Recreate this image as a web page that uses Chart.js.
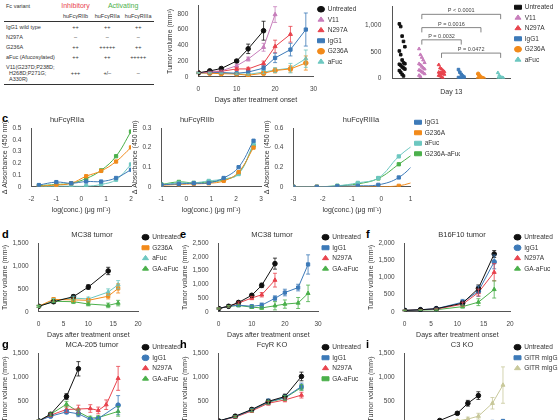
<!DOCTYPE html><html><head><meta charset="utf-8">
<script src="https://cdn.jsdelivr.net/npm/chart.js@4"></script>
<style>
body{margin:0;width:560px;height:420px;overflow:hidden;background:#fff;font-family:Arial,"Liberation Sans",sans-serif;position:relative}
.p{position:absolute}
.lab{position:absolute;font-weight:bold;font-size:11px}
table{font-size:5.5px;border-collapse:collapse;color:#333}
td{padding:2px 2px;text-align:center}
td:first-child{text-align:left}
</style></head><body>
<div class="p" style="left:4px;top:0;width:150px">
<table style="width:150px">
<tr><td>Fc variant</td><td style="color:#e8434d;font-size:7px">Inhibitory</td><td colspan="2" style="color:#4bb04b;font-size:7px">Activating</td></tr>
<tr style="border-bottom:0.6px solid #333"><td></td><td>huFcγRIIb</td><td>huFcγRIIa</td><td>huFcγRIIIa</td></tr>
<tr><td>IgG1 wild type</td><td>++</td><td>++</td><td>++</td></tr>
<tr><td>N297A</td><td>–</td><td>–</td><td>–</td></tr>
<tr><td>G236A</td><td>++</td><td>+++++</td><td>++</td></tr>
<tr><td>aFuc (Afucosylated)</td><td>++</td><td>++</td><td>+++++</td></tr>
<tr style="border-bottom:0.8px solid #333"><td>V11(G237D;P238D;<br>&nbsp;&nbsp;H268D;P271G;<br>&nbsp;&nbsp;A330R)</td><td>+++</td><td>+/–</td><td>–</td></tr>
</table></div>
<div class="p" style="left:165px;top:0;width:200px;height:105px"><canvas id="b"></canvas></div>
<div class="p" style="left:362px;top:0;width:198px;height:97px"><canvas id="v"></canvas></div>
<div class="lab" style="left:2px;top:112px">c</div>
<div class="p" style="left:0;top:113px;width:136px;height:102px"><canvas id="c1"></canvas></div>
<div class="p" style="left:130px;top:113px;width:136px;height:102px"><canvas id="c2"></canvas></div>
<div class="p" style="left:262px;top:113px;width:200px;height:102px"><canvas id="c3"></canvas></div>
<div class="lab" style="left:2px;top:228px">d</div>
<div class="lab" style="left:180px;top:228px">e</div>
<div class="lab" style="left:366px;top:228px">f</div>
<div class="p" style="left:0;top:228px;width:186px;height:112px"><canvas id="d"></canvas></div>
<div class="p" style="left:180px;top:228px;width:186px;height:112px"><canvas id="e"></canvas></div>
<div class="p" style="left:366px;top:228px;width:194px;height:112px"><canvas id="f"></canvas></div>
<div class="lab" style="left:2px;top:338px">g</div>
<div class="lab" style="left:180px;top:338px">h</div>
<div class="lab" style="left:366px;top:338px">i</div>
<div class="p" style="left:0;top:338px;width:186px;height:115px"><canvas id="g"></canvas></div>
<div class="p" style="left:180px;top:338px;width:186px;height:115px"><canvas id="h"></canvas></div>
<div class="p" style="left:366px;top:338px;width:194px;height:115px"><canvas id="i"></canvas></div>
<script>
const C={k:'#111',v11:'#c77dbb',n:'#e8434d',ig:'#3d7ab8',g:'#f28a1a',af:'#6cc7c0',ga:'#4bb04b',kh:'#c8c89a'};
// panel b
const bDays=[0,3,6,10,13,17,20,24,28];
const bUnt=[50,75,105,200,355,585];
const bV11=[50,65,75,140,225,375,790];
const bN297A=[50,60,70,100,100,170,385,540];
const bIgG1=[50,55,55,45,60,110,240,345,600];
const bG236A=[50,45,40,35,20,45,80,100,175];
const bAFuc=[50,50,45,40,30,60,85,110,230];
const bTicks=[0,200,400,600,800];
const bErr={unt:[10,10,15,20,60,120],v11:[5,5,10,20,25,50,100],n:[5,5,5,20,20,30,80,100],ig:[5,5,5,10,15,30,60,80,210],g:[5,5,5,10,10,20,30,40,90],af:[5,5,5,10,10,20,30,60,110]};
// violin day 13
const vCats=['Untreated','V11','N297A','IgG1','G236A','aFuc'];
const vUnt=[1030,980,800,700,600,520,450,350,300,280,270,250,220,200,180,150,120,80,50];
const vV11=[560,450,400,350,300,280,260,230,200,180,160,150,130,110,90,60,40];
const vN=[260,200,180,150,130,120,110,100,90,80,60,50,30,10];
const vIg=[170,120,80,50,30,20,10,5,0,0];
const vG=[90,50,20,10,0,0,0];
const vAf=[110,60,30,20,10,0,0];
const vTicks=[0,500,1000];
const vBrackets=[[1,5,1210,'P < 0.0001'],[1,4,960,'P = 0.0016'],[1,3,730,'P = 0.0032'],[2,5,480,'P = 0.0472']];
// c
const c1X=[-1.7,-1,-0.4,0.2,0.8,1.4,2];
const c1IgG1=[.015,.04,.03,.045,.045,.075,.145];
const c1G236A=[.005,.015,.03,.09,.135,.215,.335];
const c1aFuc=[0,.005,.005,.005,.02,.06,.19];
const c1GAaFuc=[.01,.02,.03,.07,.14,.26,.47];
const c2X=[-1,-0.3,0.3,0.9,1.5,2.1,2.7];
const c2IgG1=[.01,.015,.018,.02,.045,.1,.235];
const c2G236A=[.008,.012,.015,.018,.03,.075,.2];
const c2aFuc=[.01,.02,.02,.03,.04,.065,.22];
const c2GAaFuc=[.012,.025,.02,.025,.035,.07,.21];
const c3X=[-3,-2.2,-1.5,-0.8,-0.1,0.6,1.3];
const c3IgG1=[0,0,.005,.01,.02,.095,.285];
const c3G236A=[0,0,0,0,0,.01,.065];
const c3aFuc=[0,0,.01,.04,.09,.31,.47];
const c3GAaFuc=[0,0,.01,.03,.085,.23,.38];
// d
const dDays=[0,3,7,10,14,16];
const dUnt=[120,220,330,540,890];
const dG236A=[120,270,260,250,340,510];
const dAFuc=[120,250,300,280,430,590];
const dGA=[120,230,220,170,140,190];
// e
const eDays=[0,3,6,10,13,17,20,24,27];
const eUnt=[120,200,340,600,960,1750];
const eIgG1=[120,200,240,200,240,490,700,880,1720];
const eN297A=[120,200,320,500,620,1150];
const eGA=[120,200,230,170,140,220,280,320,670];
// f
const fDays=[0,3,6,11,14,17];
const fUnt=[40,60,90,250,680,1680];
const fIgG1=[40,60,90,280,600,1450];
const fN297A=[40,60,80,220,560,1150];
const fGA=[40,50,60,150,280,650];
// g
const gDays=[0,3,7,10,13,15,17,20];
const gUnt=[80,220,590,1170];
const gIgG1=[80,180,270,230,110,130,null,410];
const gN297A=[80,200,320,330,340,300,420,970];
const gGA=[80,220,430,270,140,150,null,280];
// h
const hDays=[0,5,10,15,20,25];
const hUnt=[80,180,320,490,590,1010];
const hIgG1=[80,170,310,480,570,800];
const hN297A=[80,160,290,450,520,620];
const hGA=[80,170,300,470,560,780];
// i
const iDays=[0,5,10,15,18,21,25,28];
const iUnt=[0,30,90,240,450,610];
const iGITR=[0,10,20,20,30,40,60,80];
const iN297A=[0,20,60,80,120,180,450,830];

Chart.defaults.font.family='Arial, "Liberation Sans", sans-serif';
Chart.defaults.font.size=6.5;
Chart.defaults.color='#444';
Chart.defaults.animation=false;

const errPlugin={id:'err',afterDatasetsDraw(ch){const c=ch.ctx;ch.data.datasets.forEach((ds,i)=>{if(!ds.err)return;const m=ch.getDatasetMeta(i);c.save();c.strokeStyle=ds.borderColor;c.lineWidth=0.8;m.data.forEach((p,j)=>{const e=ds.err[j];if(e==null||ds.data[j].y==null)return;const y1=ch.scales.y.getPixelForValue(ds.data[j].y+e),y2=ch.scales.y.getPixelForValue(Math.max(0,ds.data[j].y-e));c.beginPath();c.moveTo(p.x,y1);c.lineTo(p.x,y2);c.moveTo(p.x-2,y1);c.lineTo(p.x+2,y1);c.moveTo(p.x-2,y2);c.lineTo(p.x+2,y2);c.stroke();});c.restore();});}};

function pts(xs,ys){return ys.map((y,i)=>({x:xs[i],y:y}));}
function ds(label,xs,ys,col,shape,err,tension){return {label,data:pts(xs,ys),borderColor:col,backgroundColor:col,pointStyle:shape||'circle',pointRadius:2.3,borderWidth:1,tension:tension||0,spanGaps:true,err};}
const legendOpts={position:'right',align:'start',labels:{usePointStyle:true,pointStyleWidth:7,boxWidth:4,boxHeight:4,padding:4,font:{size:6.5},color:'#333'}};
function lineChart(id,o){
  new Chart(document.getElementById(id),{type:'line',data:{datasets:o.ds},plugins:[errPlugin],
  options:{responsive:true,maintainAspectRatio:false,layout:{padding:{top:2,right:2}},
   plugins:{legend:Object.assign({display:o.legend!==false},legendOpts),
     title:{display:!!o.title,text:o.title,font:{size:7.5,weight:'normal'},color:'#333',padding:{top:0,bottom:4}},tooltip:{enabled:false}},
   scales:{x:{type:'linear',min:o.xmin,max:o.xmax,ticks:{stepSize:o.xstep,maxRotation:0,padding:1},grid:{display:false},border:{color:'#555'},
       title:{display:true,text:o.xt,font:{size:7},color:'#333',padding:1}},
     y:{min:o.ymin||0,max:o.ymax,afterBuildTicks:o.yticks?(ax=>{ax.ticks=o.yticks.map(v=>({value:v}));}):undefined,
       ticks:{stepSize:o.ystep,padding:2,callback:v=>o.yfmt?o.yfmt(v):v.toLocaleString('en-US')},grid:{display:false},border:{color:'#555'},
       title:{display:true,text:o.yt,font:{size:7},color:'#333',padding:1}}}}});
}
const days='Days after treatment onset', tv='Tumor volume (mm³)';
lineChart('b',{xmin:0,xmax:30,xstep:10,ymax:900,yticks:bTicks,xt:days,yt:tv,ds:[
 ds('Untreated',bDays,bUnt,C.k,'circle',bErr.unt),ds('V11',bDays,bV11,C.v11,'triangle',bErr.v11),
 ds('N297A',bDays,bN297A,C.n,'triangle',bErr.n),ds('IgG1',bDays,bIgG1,C.ig,'rect',bErr.ig),
 ds('G236A',bDays,bG236A,C.g,'circle',bErr.g),ds('aFuc',bDays,bAFuc,C.af,'triangle',bErr.af)]});
const absT='Δ Absorbance (450 nm)', lc='log(conc.) (μg ml⁻¹)';
lineChart('c1',{title:'huFcγRIIa',legend:false,xmin:-2,xmax:2,xstep:1,ymax:0.5,ystep:0.1,xt:lc,yt:absT,yfmt:v=>+v.toFixed(1),ds:[
 ds('IgG1',c1X,c1IgG1,C.ig,'rect',null,0.4),ds('G236A',c1X,c1G236A,C.g,'rect',null,0.4),ds('aFuc',c1X,c1aFuc,C.af,'rect',null,0.4),ds('G236A-aFuc',c1X,c1GAaFuc,C.ga,'rect',null,0.4)]});
lineChart('c2',{title:'huFcγRIIb',legend:false,xmin:-1,xmax:3,xstep:1,ymax:0.3,ystep:0.1,xt:lc,yt:absT,yfmt:v=>+v.toFixed(1),ds:[
 ds('IgG1',c2X,c2IgG1,C.ig,'rect',null,0.4),ds('G236A',c2X,c2G236A,C.g,'rect',null,0.4),ds('aFuc',c2X,c2aFuc,C.af,'rect',null,0.4),ds('G236A-aFuc',c2X,c2GAaFuc,C.ga,'rect',null,0.4)]});
lineChart('c3',{title:'huFcγRIIIa',xmin:-3,xmax:1,xstep:1,ymax:0.6,ystep:0.2,xt:lc,yt:absT,yfmt:v=>+v.toFixed(1),ds:[
 ds('IgG1',c3X,c3IgG1,C.ig,'rect',null,0.4),ds('G236A',c3X,c3G236A,C.g,'rect',null,0.4),ds('aFuc',c3X,c3aFuc,C.af,'rect',null,0.4),ds('G236A-aFuc',c3X,c3GAaFuc,C.ga,'rect',null,0.4)]});
lineChart('d',{title:'MC38 tumor',xmin:0,xmax:20,xstep:5,ymax:1500,ystep:500,xt:days,yt:tv,ds:[
 ds('Untreated',dDays,dUnt,C.k,'circle',[20,30,40,50,80]),ds('G236A',dDays,dG236A,C.g,'rect',[20,40,40,40,60,100]),
 ds('aFuc',dDays,dAFuc,C.af,'triangle',[20,40,40,40,70,90]),ds('GA-aFuc',dDays,dGA,C.ga,'triangle',[20,30,40,40,50,60])]});
lineChart('e',{title:'MC38 tumor',xmin:0,xmax:30,xstep:10,ymax:2500,ystep:500,xt:days,yt:tv,ds:[
 ds('Untreated',eDays,eUnt,C.k,'circle',[20,30,40,60,80,200]),ds('IgG1',eDays,eIgG1,C.ig,'rect',[20,30,40,50,80,90,120,120,350]),
 ds('N297A',eDays,eN297A,C.n,'triangle',[20,30,40,60,80,250]),ds('GA-aFuc',eDays,eGA,C.ga,'triangle',[20,30,40,50,50,150,150,200,300])]});
lineChart('f',{title:'B16F10 tumor',xmin:0,xmax:20,xstep:5,ymax:2000,ystep:500,xt:days,yt:tv,ds:[
 ds('Untreated',fDays,fUnt,C.k,'circle',[10,10,20,60,100,100]),ds('IgG1',fDays,fIgG1,C.ig,'circle',[10,10,20,80,150,200]),
 ds('N297A',fDays,fN297A,C.n,'triangle',[10,10,20,60,100,250]),ds('GA-aFuc',fDays,fGA,C.ga,'triangle',[10,10,20,40,100,250])]});
lineChart('g',{title:'MCA-205 tumor',xmin:0,xmax:25,xstep:5,ymax:1500,ystep:500,xt:days,yt:tv,ds:[
 ds('Untreated',gDays,gUnt,C.k,'circle',[20,30,60,150]),ds('IgG1',gDays,gIgG1,C.ig,'circle',[20,30,40,60,40,40,null,200]),
 ds('N297A',gDays,gN297A,C.n,'triangle',[20,30,60,80,80,70,100,250]),ds('GA-aFuc',gDays,gGA,C.ga,'triangle',[20,30,60,60,40,40,null,100])]});
lineChart('h',{title:'FcγR KO',xmin:0,xmax:30,xstep:10,ymax:1500,ystep:500,xt:days,yt:tv,ds:[
 ds('Untreated',hDays,hUnt,C.k,'circle',[10,20,30,40,50,90]),ds('IgG1',hDays,hIgG1,C.ig,'rect',[10,20,30,60,50,70]),
 ds('N297A',hDays,hN297A,C.n,'triangle',[10,20,30,40,40,60]),ds('GA-aFuc',hDays,hGA,C.ga,'rect',[10,20,30,40,50,60])]});
lineChart('i',{title:'C3 KO',xmin:0,xmax:30,xstep:10,ymax:1500,ystep:500,xt:days,yt:tv,ds:[
 ds('Untreated',iDays,iUnt,C.k,'circle',[5,10,20,30,60,80]),ds('GITR mIgG2a',iDays,iGITR,C.ig,'rect',[5,5,5,5,5,10,10,20]),
 ds('GITR mIgG2a-N297A',iDays,iN297A,C.kh,'triangle',[5,10,20,30,40,60,120,380])]});

const vGroups=[vUnt,vV11,vN,vIg,vG,vAf], vCols=[C.k,C.v11,C.n,C.ig,C.g,C.af], vShapes=['rect','triangle','triangle','rect','circle','triangle'];
const vDs=vGroups.map((arr,g)=>({label:vCats[g],data:arr.map((y,j)=>({x:g+((j%5)-2)*0.07,y})),backgroundColor:vCols[g],borderColor:vCols[g],pointStyle:vShapes[g],pointRadius:1.8}));
const bracketPlugin={id:'br',afterDatasetsDraw(ch){const c=ch.ctx,x=ch.scales.x,y=ch.scales.y;c.save();c.strokeStyle='#666';c.lineWidth=0.8;c.fillStyle='#444';c.font='5.5px Arial';c.textAlign='center';
 vBrackets.forEach(([a,b,v,t])=>{const x1=x.getPixelForValue(a),x2=x.getPixelForValue(b),yy=y.getPixelForValue(v),yd=y.getPixelForValue(v-90);c.beginPath();c.moveTo(x1,yd);c.lineTo(x1,yy);c.lineTo(x2,yy);c.lineTo(x2,yd);c.stroke();c.fillText(t,(x1+x2)/2,yy-2);});c.restore();}};
new Chart(document.getElementById('v'),{type:'scatter',data:{datasets:vDs},plugins:[bracketPlugin],options:{responsive:true,maintainAspectRatio:false,layout:{padding:{top:0}},
 plugins:{legend:legendOpts,tooltip:{enabled:false}},
 scales:{x:{type:'linear',min:-0.5,max:5.5,ticks:{display:false},grid:{display:false},border:{color:'#555'},title:{display:true,text:'Day 13',font:{size:7},color:'#333',padding:1}},
  y:{min:0,max:1350,afterBuildTicks:ax=>{ax.ticks=vTicks.map(v=>({value:v}));},ticks:{callback:v=>v.toLocaleString('en-US')},grid:{display:false},border:{color:'#555'}}}}});
</script></body></html>
